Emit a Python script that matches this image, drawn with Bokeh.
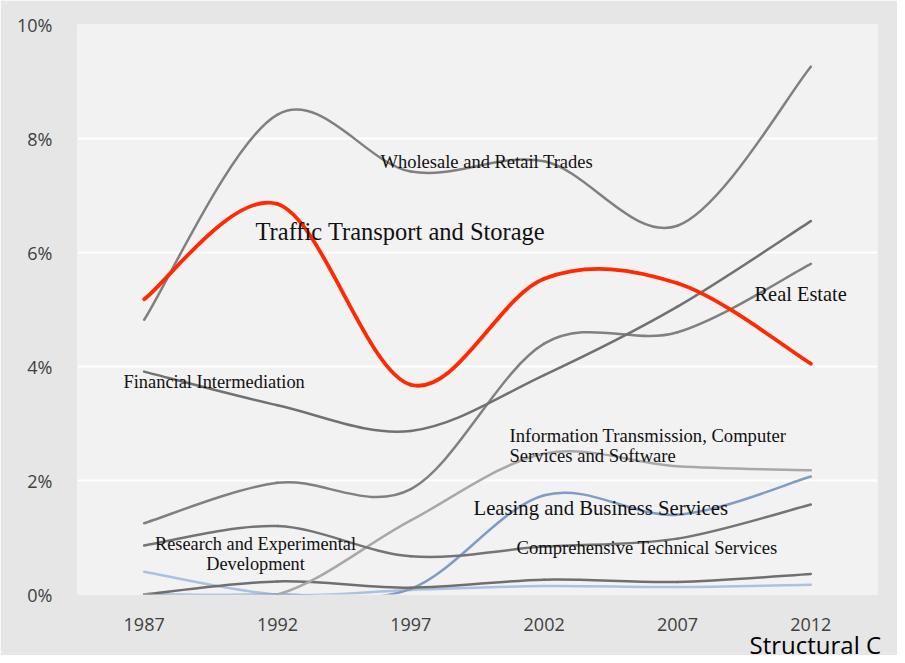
import numpy as np
from bokeh.plotting import figure
from bokeh.models import Range1d, FixedTicker, PrintfTickFormatter, Label, ColumnDataSource, Title
from bokeh.embed import file_html
from bokeh.resources import INLINE

# ---- data (share of value added, %) ----
years = [1987, 1992, 1997, 2002, 2007, 2012]
wholesale = [4.82, 8.42, 7.42, 7.60, 6.47, 9.26]
traffic = [5.18, 6.85, 3.68, 5.54, 5.46, 4.05]
real_estate = [1.25, 1.96, 1.85, 4.40, 4.60, 5.80]
financial = [3.91, 3.32, 2.87, 3.85, 5.05, 6.55]
info_trans = [0.0, 0.0, 1.30, 2.47, 2.25, 2.18]
leasing = [0.0, 0.0, 0.10, 1.74, 1.40, 2.07]
comprehensive = [0.86, 1.20, 0.67, 0.84, 0.98, 1.58]
research = [0.0, 0.23, 0.12, 0.26, 0.22, 0.36]
other = [0.40, 0.0, 0.08, 0.15, 0.13, 0.17]
y_ticks = [0, 2, 4, 6, 8, 10]
year_labels = {y: str(y) for y in years}

# ---- layout constants (page pixels) ----
W, H = 897, 655
OFF = 8
F_LEFT, F_RIGHT, F_TOP, F_BOTTOM = 85, 885, 32, 602
X0, X1 = 1984.5, 2014.5
Y0, Y1 = 0, 10


def px_x(px):
    return X0 + (px - F_LEFT) / (F_RIGHT - F_LEFT) * (X1 - X0)


def px_y(py):
    return Y0 + (F_BOTTOM - py) / (F_BOTTOM - F_TOP) * (Y1 - Y0)


p = figure(width=W, height=H, output_backend="svg", toolbar_location=None,
           x_range=Range1d(X0, X1), y_range=Range1d(Y0, Y1),
           min_border_left=F_LEFT - OFF, min_border_right=W + OFF - F_RIGHT,
           min_border_top=F_TOP - OFF, min_border_bottom=H + OFF - F_BOTTOM)
p.background_fill_color = "#f2f2f2"
p.border_fill_color = "#e6e6e6"
p.outline_line_color = None

p.xgrid.visible = False
p.ygrid.ticker = FixedTicker(ticks=y_ticks)
p.ygrid.grid_line_color = "white"
p.ygrid.grid_line_width = 2

for ax in (p.xaxis[0], p.yaxis[0]):
    ax.axis_line_color = None
    ax.major_tick_line_color = None
    ax.minor_tick_line_color = None
    ax.major_label_text_font = "Open Sans"
    ax.major_label_text_font_size = "18px"
    ax.major_label_text_color = "#404040"

p.xaxis.ticker = FixedTicker(ticks=years)
p.xaxis.major_label_overrides = year_labels
p.xaxis.major_label_standoff = 17
p.yaxis.ticker = FixedTicker(ticks=y_ticks)
p.yaxis.formatter = PrintfTickFormatter(format="%d%%")
p.yaxis.major_label_standoff = 19


def smooth_source(xs, ys):
    xs = np.asarray(xs, float)
    ys = np.asarray(ys, float)
    n = len(xs)
    d = dict(x0=[], y0=[], x1=[], y1=[], cx0=[], cy0=[], cx1=[], cy1=[])
    for i in range(n - 1):
        im = max(i - 1, 0)
        ip2 = min(i + 2, n - 1)
        d["x0"].append(xs[i]); d["y0"].append(ys[i])
        d["x1"].append(xs[i + 1]); d["y1"].append(ys[i + 1])
        d["cx0"].append(xs[i] + (xs[i + 1] - xs[im]) / 6)
        d["cy0"].append(ys[i] + (ys[i + 1] - ys[im]) / 6)
        d["cx1"].append(xs[i + 1] - (xs[ip2] - xs[i]) / 6)
        d["cy1"].append(ys[i + 1] - (ys[ip2] - ys[i]) / 6)
    return ColumnDataSource(d)


series = [
    (other, "#a9c1e2", 2.5),
    (leasing, "#7e9cc4", 2.5),
    (research, "#6f6f6f", 2.5),
    (info_trans, "#a8a8a8", 2.5),
    (comprehensive, "#747474", 2.5),
    (real_estate, "#808080", 2.5),
    (financial, "#717171", 2.5),
    (wholesale, "#808080", 2.5),
    (traffic, "#ff2a00", 3.8),
]
for vals, col, lw in series:
    src = smooth_source(years, vals)
    p.bezier(x0="x0", y0="y0", x1="x1", y1="y1", cx0="cx0", cy0="cy0",
             cx1="cx1", cy1="cy1", source=src, line_color=col,
             line_width=lw, line_cap="round")

SERIF = "Liberation Serif"


def add_label(text, px, py, size, align="left"):
    p.add_layout(Label(x=px_x(px), y=px_y(py), text=text, text_font=SERIF,
                       text_font_size=size, text_color="#111111",
                       text_align=align, text_baseline="alphabetic"))


add_label("Wholesale and Retail Trades", 388, 169, "18.5px")
add_label("Traffic Transport and Storage", 263, 239, "24.5px")
add_label("Real Estate", 762, 301, "20.4px")
add_label("Financial Intermediation", 131, 389, "18.4px")
add_label("Information Transmission, Computer", 517, 443, "18.6px")
add_label("Services and Software", 517, 463, "18.6px")
add_label("Leasing and Business Services", 481, 515, "20.7px")
add_label("Comprehensive Technical Services", 524, 555, "18.6px")
add_label("Research and Experimental", 263, 551, "18.3px", "center")
add_label("Development", 263, 571, "18.3px", "center")

caption = Title(text="Structural C", align="left", offset=757 - F_LEFT,
                text_font="Open Sans", text_font_size="24px",
                text_font_style="normal", text_color="#000000", standoff=-16)
p.add_layout(caption, "below")

open("out.html", "w").write(file_html(p, INLINE))
